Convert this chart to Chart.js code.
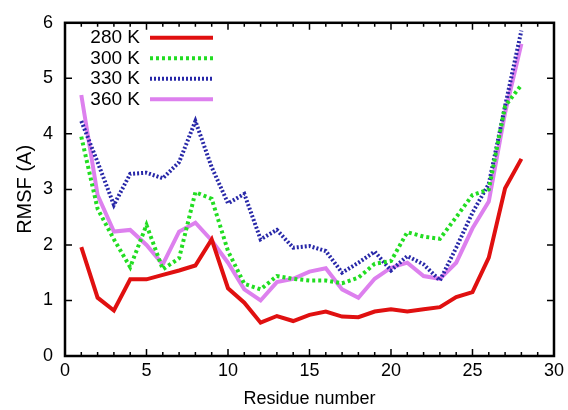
<!DOCTYPE html>
<html>
<head>
<meta charset="utf-8">
<script src="https://cdn.jsdelivr.net/npm/chart.js@4.4.1/dist/chart.umd.min.js"></script>
<style>
  html, body { margin: 0; padding: 0; background: #fff; }
  #wrap { width: 568px; height: 410px; }
</style>
</head>
<body>
<div id="wrap"><canvas id="myChart" width="568" height="410"></canvas></div>
<script>
const residues = [1,2,3,4,5,6,7,8,9,10,11,12,13,14,15,16,17,18,19,20,21,22,23,24,25,26,27,28];
const t280 = [1.96,1.05,0.82,1.38,1.38,1.46,1.54,1.63,2.1,1.22,0.96,0.6,0.72,0.63,0.74,0.8,0.71,0.7,0.8,0.84,0.8,0.84,0.88,1.06,1.15,1.77,3.02,3.55];
const t300 = [3.95,2.65,2.1,1.6,2.36,1.56,1.76,2.95,2.83,1.89,1.3,1.2,1.44,1.39,1.36,1.36,1.31,1.41,1.66,1.71,2.23,2.15,2.11,2.5,2.9,3.0,4.5,4.88];
const t330 = [4.23,3.49,2.72,3.28,3.3,3.2,3.49,4.23,3.4,2.75,2.92,2.1,2.27,1.95,1.98,1.89,1.5,1.68,1.88,1.54,1.8,1.65,1.36,1.95,2.58,3.1,4.5,5.86];
const t360 = [4.7,2.9,2.24,2.27,2.0,1.65,2.24,2.4,2.08,1.68,1.2,1.0,1.33,1.39,1.52,1.58,1.2,1.05,1.39,1.59,1.68,1.44,1.39,1.68,2.3,2.78,4.38,5.62];
const seriesNames = ['280 K', '300 K', '330 K', '360 K'];
const xTicks = [0, 5, 10, 15, 20, 25, 30];
const yTicks = [0, 1, 2, 3, 4, 5, 6];

const FONT = 'Liberation Sans, Arial, sans-serif';

function pts(vals) {
    return vals.map((v, i) => ({ x: residues[i], y: v }));
}

const frameTicks = {
    id: 'frameTicks',
    afterDatasetsDraw(chart) {
        const { ctx, chartArea: a, scales } = chart;
        ctx.save();
        ctx.strokeStyle = '#000';
        ctx.lineWidth = 1.5;
        ctx.beginPath();
        for (let v = 0; v <= 30; v++) {
            const px = scales.x.getPixelForValue(v);
            const len = v % 5 === 0 ? 7 : 4;
            ctx.moveTo(px, a.bottom); ctx.lineTo(px, a.bottom - len);
            ctx.moveTo(px, a.top); ctx.lineTo(px, a.top + len);
        }
        yTicks.forEach(v => {
            const py = scales.y.getPixelForValue(v);
            ctx.moveTo(a.left, py); ctx.lineTo(a.left + 7, py);
            ctx.moveTo(a.right, py); ctx.lineTo(a.right - 7, py);
        });
        ctx.stroke();
        ctx.lineWidth = 2.5;
        ctx.strokeRect(a.left, a.top, a.right - a.left, a.bottom - a.top);

        // legend: label then line sample
        ctx.font = '19px ' + FONT;
        ctx.textAlign = 'right';
        ctx.textBaseline = 'middle';
        chart.data.datasets.forEach((ds, i) => {
            const y = a.top + 15 + i * 20.5;
            ctx.fillStyle = '#000';
            ctx.fillText(ds.label, a.left + 75, y);
            ctx.beginPath();
            ctx.strokeStyle = ds.borderColor;
            ctx.lineWidth = ds.borderWidth;
            ctx.setLineDash(ds.borderDash || []);
            ctx.moveTo(a.left + 85, y);
            ctx.lineTo(a.left + 148, y);
            ctx.stroke();
            ctx.setLineDash([]);
        });
        ctx.restore();
    }
};

const ctx = document.getElementById('myChart');

new Chart(ctx, {
    type: 'line',
    data: {
        datasets: [
            { label: seriesNames[0], data: pts(t280), borderColor: '#e01010', borderWidth: 4, pointRadius: 0, tension: 0 },
            { label: seriesNames[1], data: pts(t300), borderColor: '#22dd22', borderWidth: 4, borderDash: [3, 3], pointRadius: 0, tension: 0 },
            { label: seriesNames[2], data: pts(t330), borderColor: '#2828a8', borderWidth: 4, borderDash: [2, 2], pointRadius: 0, tension: 0 },
            { label: seriesNames[3], data: pts(t360), borderColor: '#dd80ee', borderWidth: 4, pointRadius: 0, tension: 0 }
        ]
    },
    options: {
        responsive: false,
        animation: false,
        layout: { padding: { top: 19, right: 12, left: 13, bottom: 0 } },
        plugins: { legend: { display: false }, tooltip: { enabled: false } },
        scales: {
            x: {
                type: 'linear',
                min: 0, max: 30,
                afterBuildTicks: s => { s.ticks = xTicks.map(v => ({ value: v })); },
                afterFit: s => { s.height = 54; },
                grid: { display: false, drawTicks: false },
                border: { display: false },
                ticks: { color: '#000', font: { family: FONT, size: 18 }, padding: 4, maxRotation: 0 },
                title: { display: true, text: 'Residue number', color: '#000', font: { family: FONT, size: 18 }, padding: { top: 2, bottom: 0 } }
            },
            y: {
                min: 0, max: 6,
                afterBuildTicks: s => { s.ticks = yTicks.map(v => ({ value: v })); },
                afterFit: s => { s.width = 52; },
                grid: { display: false, drawTicks: false },
                border: { display: false },
                ticks: { color: '#000', font: { family: FONT, size: 18 }, padding: 12 },
                title: { display: true, text: 'RMSF (A)', color: '#000', font: { family: FONT, size: 20 }, padding: { top: 0, bottom: 4 } }
            }
        }
    },
    plugins: [frameTicks]
});
</script>
</body>
</html>
